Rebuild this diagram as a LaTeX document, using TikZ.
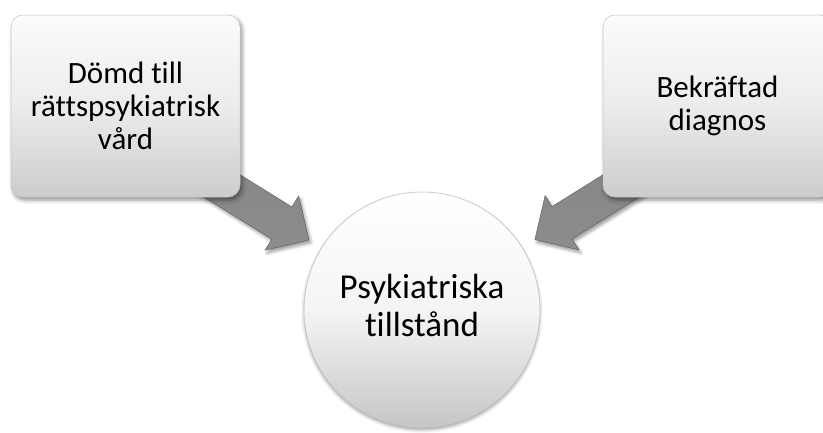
\documentclass[tikz,border=0pt]{standalone}
\usepackage{fontspec}
\setmainfont{Carlito}[Ligatures=NoCommon]
\usetikzlibrary{calc,shadows.blur}
\pgfdeclarelayer{bg}
\pgfsetlayers{bg,main}
\tikzset{
  boxstyle/.style={draw=gray!45, line width=0.5pt, rounded corners=12pt,
    top color=gray!3, bottom color=gray!40, middle color=gray!15, minimum width=229pt, minimum height=182pt,
    align=center, font=\fontsize{31}{33}\selectfont, inner sep=0pt,
    blur shadow={shadow xshift=2pt, shadow yshift=-3pt, shadow blur radius=4pt, shadow opacity=45}},
  circstyle/.style={circle, draw=gray!55, line width=0.5pt, minimum size=236pt,
    top color=white, bottom color=gray!45, middle color=gray!8, align=center,
    font=\fontsize{35}{37}\selectfont, inner sep=0pt,
    blur shadow={shadow xshift=0pt, shadow yshift=-2pt, shadow blur radius=3pt, shadow opacity=35}},
  arrowstyle/.style={draw=gray!60!black, line width=0.3pt, top color=gray!95, middle color=gray!60, bottom color=gray!90,
    blur shadow={shadow xshift=2pt, shadow yshift=-3pt, shadow blur radius=3pt, shadow opacity=40}}
}
\newcommand{\fatarrow}[2]{%
  \path ($(#2)!32pt!(#1)$) coordinate (hb);
  \path[arrowstyle] ($(#1)!19pt!90:(#2)$) -- ($(hb)!19pt!90:(#2)$) -- ($(hb)!32pt!90:(#2)$)
    -- (#2) -- ($(hb)!32pt!-90:(#2)$) -- ($(hb)!19pt!-90:(#2)$) -- ($(#1)!19pt!-90:(#2)$) -- cycle;
}
\begin{document}
\begin{tikzpicture}[x=1pt, y=-1pt]
\useasboundingbox (0,0) rectangle (823,432);
\node[circstyle] (c) at (422,310) {\raisebox{4pt}{\shortstack[c]{\strut Psykiatriska\\[-2pt]\strut tillstånd}}};
\node[boxstyle] (a) at (125.5,106) {Dömd till\\rättspsykiatrisk\\vård};
\node[boxstyle] (b) at (717.5,106) {Bekräftad\\diagnos};
\begin{pgfonlayer}{bg}
  \coordinate (t1) at ($(a.south east)!-45pt!(c.center)$);
  \coordinate (p1) at ($(c.center)!133pt!(a.south east)$);
  \coordinate (t2) at ($(b.south west)!-45pt!(c.center)$);
  \coordinate (p2) at ($(c.center)!133pt!(b.south west)$);
  \fatarrow{t1}{p1}
  \fatarrow{t2}{p2}
\end{pgfonlayer}
\end{tikzpicture}
\end{document}
